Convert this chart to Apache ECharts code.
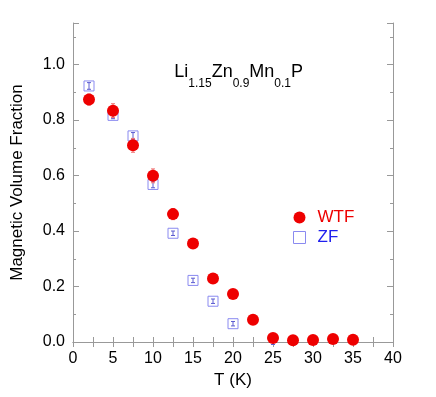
<!DOCTYPE html>
<html>
<head>
<meta charset="utf-8">
<script src="https://cdn.jsdelivr.net/npm/echarts@6/dist/echarts.min.js"></script>
<style>html,body{margin:0;padding:0;background:#fff}#c{width:436px;height:397px}</style>
</head>
<body>
<div id="c"></div>
<script>
// Data
var wtfT   = [2, 5, 7.5, 10, 12.5, 15, 17.5, 20, 22.5, 25, 27.5, 30, 32.5, 35];
var wtfVal = [0.874, 0.834, 0.709, 0.599, 0.461, 0.355, 0.229, 0.173, 0.080, 0.014, 0.006, 0.007, 0.011, 0.008];
var wtfErr = [0.02, 0.025, 0.025, 0.025, 0.02, 0.015, 0.012, 0.012, 0.01, 0.008, 0.008, 0.008, 0.008, 0.008];
var zfT    = [2, 5, 7.5, 10, 12.5, 15, 17.5, 20, 25, 30];
var zfVal  = [0.923, 0.817, 0.743, 0.568, 0.392, 0.222, 0.147, 0.066, -0.003, -0.002];
var zfErr  = [0.012, 0.012, 0.012, 0.012, 0.008, 0.008, 0.008, 0.008, 0.006, 0.006];
var xTickLabels = ['0','5','10','15','20','25','30','35','40'];
var yTickLabels = ['0.0','0.2','0.4','0.6','0.8','1.0'];

var FONT = 'Liberation Sans, Arial, sans-serif';
var FRAME = '#999999';
var RED = '#ee0000';
var BLUE = '#1f1fee';
var SQ = '#8a8af0';

function pairs(xs, ys, es) {
  return xs.map(function (x, i) { return es ? [x, ys[i], es[i]] : [x, ys[i]]; });
}
function errRender(color) {
  return function (params, api) {
    var x = api.value(0), y = api.value(1), e = api.value(2);
    var lo = api.coord([x, y - e]), hi = api.coord([x, y + e]);
    var c = 2;
    var st = { stroke: color, lineWidth: 1 };
    return { type: 'group', children: [
      { type: 'line', shape: { x1: lo[0], y1: lo[1], x2: hi[0], y2: hi[1] }, style: st },
      { type: 'line', shape: { x1: lo[0] - c, y1: lo[1], x2: lo[0] + c, y2: lo[1] }, style: st },
      { type: 'line', shape: { x1: hi[0] - c, y1: hi[1], x2: hi[0] + c, y2: hi[1] }, style: st }
    ]};
  };
}

var chart = echarts.init(document.getElementById('c'), null, { renderer: 'canvas' });
var xLab = function (v) { var s = String(v); return xTickLabels.indexOf(s) >= 0 ? s : ''; };
var yLab = function (v) {
  var k = Math.round(v * 10);
  if (Math.abs(v * 10 - k) > 1e-6 || k % 2 !== 0) return '';
  var s = (k / 10).toFixed(1);
  return yTickLabels.indexOf(s) >= 0 ? s : '';
};

chart.setOption({
  animation: false,
  backgroundColor: '#fff',
  textStyle: { fontFamily: FONT },
  grid: { left: 73, right: 43, top: 23, bottom: 55, containLabel: false },
  xAxis: [
    { type: 'value', min: 0, max: 40, interval: 2.5, position: 'bottom',
      name: 'T (K)', nameLocation: 'middle', nameGap: 30,
      nameTextStyle: { fontSize: 17, color: '#000', fontFamily: FONT },
      axisLine: { lineStyle: { color: FRAME, width: 1 } },
      axisTick: { inside: true, length: 5, lineStyle: { color: FRAME } },
      axisLabel: { formatter: xLab, fontSize: 16, color: '#000', margin: 9, fontFamily: FONT, showMaxLabel: true },
      splitLine: { show: false } },
    { type: 'value', min: 0, max: 40, interval: 2.5, position: 'top',
      axisLine: { lineStyle: { color: FRAME, width: 1 } },
      axisTick: { inside: true, length: 5, lineStyle: { color: FRAME } },
      axisLabel: { show: false }, splitLine: { show: false } }
  ],
  yAxis: [
    { type: 'value', min: 0, max: 1.15, interval: 0.1, position: 'left',
      name: 'Magnetic Volume Fraction', nameLocation: 'middle', nameGap: 47,
      nameTextStyle: { fontSize: 17, color: '#000', fontFamily: FONT },
      axisLine: { lineStyle: { color: FRAME, width: 1 } },
      axisTick: { inside: true, length: 3, lineStyle: { color: FRAME } },
      axisLabel: { formatter: yLab, fontSize: 16, color: '#000', margin: 8, fontFamily: FONT, showMaxLabel: false },
      splitLine: { show: false } },
    { type: 'value', min: 0, max: 1.15, interval: 0.2, position: 'left',
      axisLine: { show: false },
      axisTick: { inside: true, length: 6, lineStyle: { color: FRAME } },
      axisLabel: { show: false }, splitLine: { show: false } },
    { type: 'value', min: 0, max: 1.15, interval: 0.1, position: 'right',
      axisLine: { lineStyle: { color: FRAME, width: 1 } },
      axisTick: { inside: true, length: 3, lineStyle: { color: FRAME } },
      axisLabel: { show: false }, splitLine: { show: false } },
    { type: 'value', min: 0, max: 1.15, interval: 0.2, position: 'right',
      axisLine: { show: false },
      axisTick: { inside: true, length: 6, lineStyle: { color: FRAME } },
      axisLabel: { show: false }, splitLine: { show: false } }
  ],
  legend: {
    orient: 'vertical', left: 288, top: 204, itemWidth: 12, itemHeight: 12, itemGap: 3,
    textStyle: { fontSize: 17, fontFamily: FONT, padding: [0, 0, 0, 7] },
    data: [
      { name: 'WTF', icon: 'circle', itemStyle: { color: RED, borderWidth: 0 }, textStyle: { color: RED } },
      { name: 'ZF', icon: 'rect', itemStyle: { color: '#ffffff', borderColor: SQ, borderWidth: 1 }, textStyle: { color: BLUE } }
    ]
  },
  graphic: [
    { type: 'text', left: 174, top: 63,
      style: {
        text: '{h| }{m|Li}{s|1.15}{m|Zn}{s|0.9}{m|Mn}{s|0.1}{m|P}',
        rich: {
          h: { fontSize: 1, lineHeight: 27, verticalAlign: 'top' },
          m: { fontSize: 18, lineHeight: 20, verticalAlign: 'top', fontFamily: FONT, fill: '#000' },
          s: { fontSize: 12, lineHeight: 13, verticalAlign: 'bottom', fontFamily: FONT, fill: '#000' }
        }
      } }
  ],
  series: [
    { name: 'ZF', type: 'scatter', xAxisIndex: 0, yAxisIndex: 0, symbol: 'rect', symbolSize: 10,
      itemStyle: { color: 'rgba(255,255,255,0)', borderColor: SQ, borderWidth: 1, opacity: 1 },
      data: pairs(zfT, zfVal), z: 2 },
    { name: 'ZF err', type: 'custom', xAxisIndex: 0, yAxisIndex: 0, renderItem: errRender('#5a5ad0'),
      data: pairs(zfT, zfVal, zfErr), z: 3, silent: true },
    { name: 'WTF err', type: 'custom', xAxisIndex: 0, yAxisIndex: 0, renderItem: errRender('#f07070'),
      data: pairs(wtfT, wtfVal, wtfErr), z: 4, silent: true },
    { name: 'WTF', type: 'scatter', xAxisIndex: 0, yAxisIndex: 0, symbol: 'circle', symbolSize: 12,
      itemStyle: { color: RED, opacity: 1 }, data: pairs(wtfT, wtfVal), z: 5 }
  ]
});
</script>
</body>
</html>
